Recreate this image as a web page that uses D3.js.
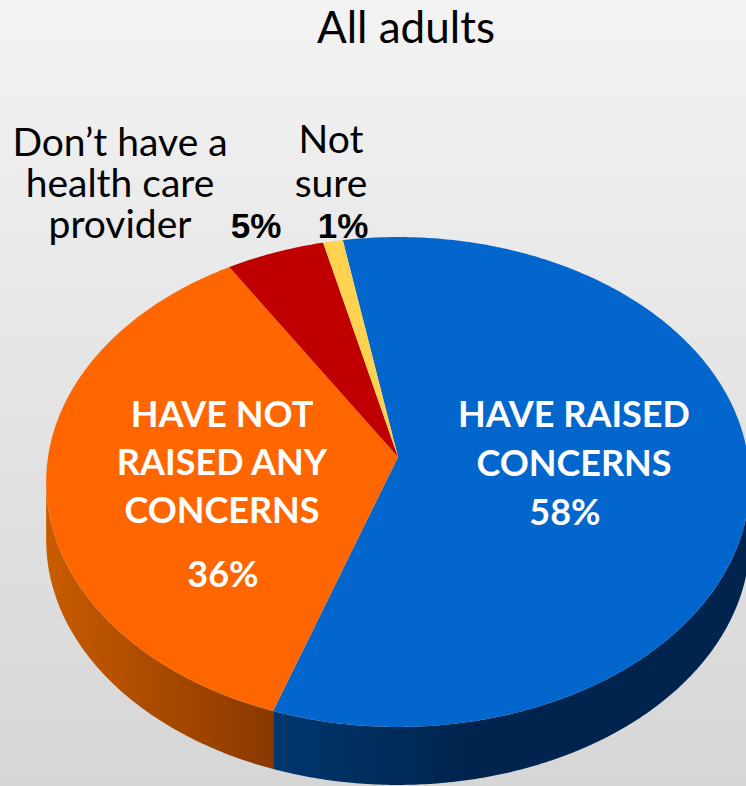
<!DOCTYPE html>
<html>
<head>
<meta charset="utf-8">
<script src="https://cdn.jsdelivr.net/npm/d3@7"></script>
<style>
  html, body { margin: 0; padding: 0; }
  body { width: 746px; height: 786px; overflow: hidden; }
  svg { display: block; }
</style>
</head>
<body>
<svg id="chart" width="746" height="786"></svg>
<script>
// Survey answers, clockwise from the top of the pie
const categories = ["HAVE RAISED CONCERNS", "HAVE NOT RAISED ANY CONCERNS", "Don\u2019t have a health care provider", "Not sure"];
const values = [58, 36, 5, 1];
const sliceColors = ["#0366cc", "#ff6600", "#c00000", "#ffd34f"];
const title = "All adults";

const W = 746, H = 786;
const svg = d3.select("#chart");
const defs = svg.append("defs");

// background wash
const bg = defs.append("linearGradient").attr("id", "bg")
  .attr("x1", 0).attr("y1", 0).attr("x2", 0).attr("y2", 1);
bg.append("stop").attr("offset", "0%").attr("stop-color", "#f3f3f3");
bg.append("stop").attr("offset", "100%").attr("stop-color", "#d6d6d6");
svg.append("rect").attr("width", W).attr("height", H).attr("fill", "url(#bg)");

// side-wall shading, lit from the left
const sideShade = [
  { id: "side0", x1: 275, x2: 470, stops: ["#00376f", "#00244d"] },
  { id: "side1", x1: 45, x2: 275, stops: ["#c95c00", "#893800"] },
  { id: "side2", x1: 45, x2: 275, stops: ["#a00000", "#700000"] },
  { id: "side3", x1: 45, x2: 275, stops: ["#d0a030", "#a07820"] }
];
sideShade.forEach(s => {
  const g = defs.append("linearGradient").attr("id", s.id)
    .attr("gradientUnits", "userSpaceOnUse")
    .attr("x1", s.x1).attr("y1", 0).attr("x2", s.x2).attr("y2", 0);
  g.append("stop").attr("offset", "0%").attr("stop-color", s.stops[0]);
  g.append("stop").attr("offset", "100%").attr("stop-color", s.stops[1]);
});

// Tilted disc seen in perspective: angle measured clockwise from the far edge
const cx = 398, cy = 457;   // projected centre of the top face
const A = 350, B = 242.4;   // horizontal / vertical radii
const persp = 0.102;        // foreshortening of the far half
const depth = 58;           // thickness of the pie

function proj(a, dy = 0) {
  const u = Math.sin(a), v = Math.cos(a);
  const k = 1 + persp * v;
  return [cx + A * u / k, cy - B * v / k + dy];
}

const startA = -10 * Math.PI / 180;
const pie = d3.pie().sort(null).value(d => d)
  .startAngle(startA).endAngle(startA + 2 * Math.PI);
const arcs = pie(values);

const line = d3.line();
function sample(a0, a1, dy) {
  const n = Math.max(2, Math.ceil(Math.abs(a1 - a0) / 0.01));
  return d3.range(n + 1).map(i => proj(a0 + (a1 - a0) * i / n, dy));
}

// Visible front wall runs between the two silhouette points
const sideFrom = Math.acos(-persp);
const sideTo = 2 * Math.PI - Math.acos(-persp);

const gSide = svg.append("g");
arcs.forEach((d, i) => {
  const lo = Math.max(d.startAngle, sideFrom), hi = Math.min(d.endAngle, sideTo);
  if (hi <= lo) return;
  const pts = sample(lo, hi, 0).concat(sample(hi, lo, depth));
  gSide.append("path")
    .attr("d", line(pts) + "Z")
    .attr("fill", `url(#side${i})`);
});

// Top face of each slice
const gTop = svg.append("g");
arcs.forEach((d, i) => {
  const pts = [[cx, cy]].concat(sample(d.startAngle, d.endAngle, 0));
  gTop.append("path")
    .attr("d", line(pts) + "Z")
    .attr("fill", sliceColors[i]);
});

// Title
svg.append("text")
  .attr("x", 406).attr("y", 43)
  .attr("text-anchor", "middle")
  .attr("font-family", "Lato, 'Open Sans', sans-serif")
  .attr("font-size", 44)
  .attr("fill", "#000")
  .text(title);

const inFont = "Lato, 'Open Sans', sans-serif";

// multi-line text block: one <text>, one <tspan> per line
function block(x, y0, lines, step, attrs) {
  const t = svg.append("text").attr("x", x).attr("y", y0).attr("text-anchor", "middle");
  Object.entries(attrs).forEach(([k, v]) => t.attr(k, v));
  lines.forEach((s, j) => {
    t.append("tspan").attr("x", x).attr("y", y0 + j * step).text(s);
  });
  return t;
}

// In-slice labels (white, bold)
const innerStyle = { "font-family": inFont, "font-weight": 700, "font-size": 36, fill: "#fff" };
block(574, 427, ["HAVE RAISED", "CONCERNS"], 49, innerStyle);
block(565, 525, [values[0] + "%"], 0, innerStyle);
block(222, 427, ["HAVE NOT", "RAISED ANY", "CONCERNS"], 48, innerStyle);
block(223, 587, [values[1] + "%"], 0, innerStyle);

// Outside labels for the two thin slices
const outerStyle = { "font-family": inFont, "font-size": 39, fill: "#000" };
const pctStyle = { "font-family": "'Liberation Sans', Arial, sans-serif", "font-weight": 700, "font-size": 35, fill: "#000" };
block(120, 156, ["Don\u2019t have a", "health care", "provider"], 41, outerStyle);
block(256, 238, [values[2] + "%"], 0, pctStyle);
block(331, 153, ["Not", "sure"], 44, outerStyle);
block(343, 238, [values[3] + "%"], 0, pctStyle);
</script>
</body>
</html>
